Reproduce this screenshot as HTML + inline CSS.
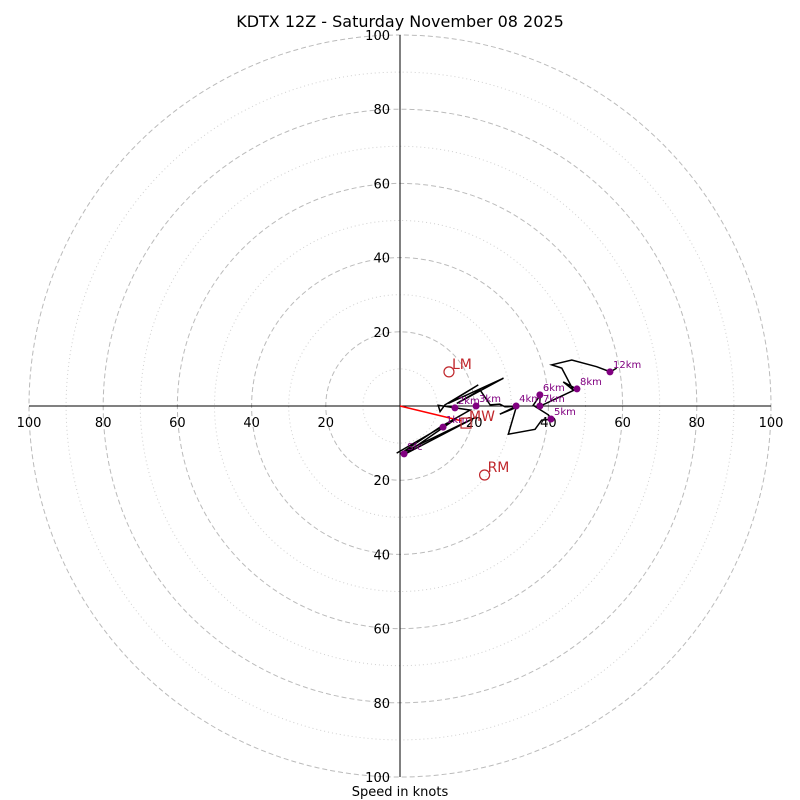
<!DOCTYPE html>
<html><head><meta charset="utf-8"><style>
body{margin:0;background:#fff;}
svg{display:block;font-family:"DejaVu Sans","Liberation Sans",sans-serif;}
</style></head><body>
<svg id="chart" width="800" height="800"></svg>
<script>
const ringSolid = [20,40,60,80,100];
const ringDotted = [10,30,50,70,90];
const tickLabels = ["20","40","60","80","100"];
const traceU = [-0.9,15.3,0.9,20.7,0,10.8,18.9,10.3,10.8,12.1,21.1,13.0,27.9,15.3,21.6,24.3,26.9,28.3,31.3,26.9,31.3,29.2,36.4,38.2,40.8,40.0,35.9,37.8,37.6,40.4,47.6,44.0,46.7,43.6,40.9,46.3,53.0,56.7,58.4];
const traceV = [-12.7,-3.3,-13.2,-2.9,-12.9,-5.7,-1.1,0.2,-1.5,0.3,5.7,0.7,7.5,0.7,4.3,0.3,0.5,-0.2,-0.1,-2.2,-0.4,-7.6,-6.3,-3.8,-3.6,-2.4,0.2,2.9,-0.1,1.2,4.6,6.5,4.3,10.2,11.1,12.4,10.6,9.2,10.2];
const levelNames = ["Sfc","1km","2km","3km","4km","5km","6km","7km","8km","12km"];
const levelU = [1.1,11.6,14.8,20.5,31.3,40.7,37.7,37.7,47.7,56.6];
const levelV = [-12.9,-5.7,-0.5,0,0,-3.5,3.0,0,4.6,9.2];
const motionNames = ["LM","RM"];
const motionU = [13.2,22.8];
const motionV = [9.2,-18.6];
const mwU = 17.8, mwV = -4.6;
const shearU = 16.6, shearV = -4.0;

const NS="http://www.w3.org/2000/svg";
const svg=document.getElementById('chart');
const cx=400, cy=406, R=371, maxS=100;
const sx=u=>cx+u/maxS*R;
const sy=v=>cy-v/maxS*R;
const sr=s=>s/maxS*R;
function mk(tag,attrs,parent){const e=document.createElementNS(NS,tag);for(const k in attrs)e.setAttribute(k,attrs[k]);(parent||svg).appendChild(e);return e;}

ringDotted.forEach(s=>{const c=mk('circle',{cx:cx,cy:cy,r:sr(s),fill:'none',stroke:'#d0d0d0','stroke-width':1,'stroke-dasharray':'1,3'});

});
ringSolid.forEach(s=>{const c=mk('circle',{cx:cx,cy:cy,r:sr(s),fill:'none',stroke:'#bbbbbb','stroke-width':1,'stroke-dasharray':'5,3'});

});
const ax1=mk('line',{x1:sx(-100),y1:cy,x2:sx(100),y2:cy,stroke:'#000','stroke-width':1});


const ax2=mk('line',{x1:cx,y1:sy(100),x2:cx,y2:sy(-100),stroke:'#000','stroke-width':1});


ringSolid.forEach((s,i)=>{
  [sx(s),sx(-s)].forEach(x=>{const t=mk('text',{x:x,y:cy+21,'text-anchor':'middle','font-size':13,fill:'#000'});t.textContent=tickLabels[i];
  
  });
  [sy(s),sy(-s)].forEach(y=>{const t=mk('text',{x:cx-10,y:y+5,'text-anchor':'end','font-size':13,fill:'#000'});t.textContent=tickLabels[i];
  
  });
});
const shear=mk('line',{x1:sx(0),y1:sy(0),x2:sx(shearU),y2:sy(shearV),stroke:'#ff0000','stroke-width':1.5});


const pts=traceU.map((u,i)=>sx(u)+','+sy(traceV[i])).join(' ');
const tr=mk('polyline',{points:pts,fill:'none',stroke:'#000','stroke-width':1.5});


levelNames.forEach((n,i)=>{
  const c=mk('circle',{cx:sx(levelU[i]),cy:sy(levelV[i]),r:3.5,fill:'#800080'});
  
  
  const t=mk('text',{x:sx(levelU[i])+3,y:sy(levelV[i])-4,'font-size':10,fill:'#800080'});t.textContent=n;
  
  
});
motionNames.forEach((n,i)=>{
  const c=mk('circle',{cx:sx(motionU[i]),cy:sy(motionV[i]),r:5,fill:'none',stroke:'#c0282d','stroke-width':1.2});
  
  
  const t=mk('text',{x:sx(motionU[i])+3,y:sy(motionV[i])-3,'font-size':14,fill:'#c0282d'});t.textContent=n;
  
  
});
const mw=mk('rect',{x:sx(mwU)-5,y:sy(mwV)-5,width:10,height:10,fill:'none',stroke:'#c0282d','stroke-width':1.2});


const mwt=mk('text',{x:sx(mwU)+3,y:sy(mwV)-2,'font-size':14,fill:'#c0282d'});mwt.textContent='MW';


const title=mk('text',{x:400,y:27,'text-anchor':'middle','font-size':16,fill:'#000'});title.textContent='KDTX 12Z - Saturday November 08 2025';


const xl=mk('text',{x:400,y:796,'text-anchor':'middle','font-size':13,fill:'#000'});xl.textContent='Speed in knots';


</script>
</body></html>
